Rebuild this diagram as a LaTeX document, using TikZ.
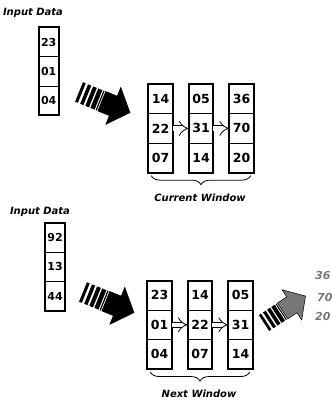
\documentclass[tikz,border=0pt]{standalone}
\usepackage{fontspec}
\setmainfont{DejaVu Sans}
\usepackage{xcolor}
\usepackage{tikz}
\usetikzlibrary{arrows.meta,positioning,fit,calc,decorations.pathreplacing}
\definecolor{ink}{HTML}{000000}
\definecolor{ashgray}{HTML}{777777}
\tikzset{
  incell/.style={
    rectangle, draw=ink, line width=0.8pt,
    minimum width=20pt, minimum height=29.3pt,
    inner sep=0pt, outer sep=0pt,
    font=\fontsize{11}{13}\selectfont\bfseries
  },
  wincell/.style={
    rectangle, draw=ink, line width=0.8pt,
    minimum width=24.5pt, minimum height=29.5pt,
    inner sep=0pt, outer sep=0pt,
    font=\fontsize{12.5}{15}\selectfont\bfseries
  },
  colframe/.style={rectangle, draw=ink, line width=1.9pt, inner sep=0pt},
  shiftarrow/.style={
    -{Implies}, double=white, double distance=4.5pt, line width=0.8pt
  },
  winbrace/.style={
    decorate, decoration={brace, mirror, amplitude=9pt}, line width=0.8pt
  },
  tag/.style={font=\fontsize{10}{12}\selectfont\bfseries\itshape, inner sep=0pt},
  outval/.style={tag, font=\fontsize{11}{13}\selectfont\bfseries\itshape,
    text=ashgray, anchor=west},
  stripearrow/.pic={
    \fill[ink] (0,-10.5) rectangle (3,10.5);
    \fill[ink] (5.5,-10.5) rectangle (9,10.5);
    \fill[ink] (11,-10.5) rectangle (15,10.5);
    \fill[ink] (16.5,-10.5) rectangle (21,10.5);
    \fill[ink] (22.2,-10.5) rectangle (23.4,10.5);
    \filldraw[fill=#1, draw=ink, line width=0.5pt]
      (24.6,-10.5) -- (37,-10.5) -- (37,-20) -- (55,0)
      -- (37,20) -- (37,10.5) -- (24.6,10.5) -- cycle;
  },
}

\begin{document}
\begin{tikzpicture}[x=1pt, y=-1pt]
    \useasboundingbox (0,0) rectangle (332,402);
    % current step
    \node[tag] (lbl1) at (33,13) {Input Data};
    \node[incell] (in1a) at (48.7,42) {23};
    \node[incell, below=0pt of in1a] (in1b) {01};
    \node[incell, below=0pt of in1b] (in1c) {04};
    \node[colframe, fit=(in1a)(in1c)] (in1) {};
    \pic[rotate=-22] at (79,92) {stripearrow=ink};
    \node[wincell] (cur1a) at (160.5,98.9) {14};
    \node[wincell, below=0pt of cur1a] (cur1b) {22};
    \node[wincell, below=0pt of cur1b] (cur1c) {07};
    \node[wincell, right=16pt of cur1a] (cur2a) {05};
    \node[wincell, below=0pt of cur2a] (cur2b) {31};
    \node[wincell, below=0pt of cur2b] (cur2c) {14};
    \node[wincell, right=16pt of cur2a] (cur3a) {36};
    \node[wincell, below=0pt of cur3a] (cur3b) {70};
    \node[wincell, below=0pt of cur3b] (cur3c) {20};
    \node[colframe, fit=(cur1a)(cur1c)] (cur1) {};
    \node[colframe, fit=(cur2a)(cur2c)] (cur2) {};
    \node[colframe, fit=(cur3a)(cur3c)] (cur3) {};
    \draw[shiftarrow] (cur1b) -- (cur2b);
    \draw[shiftarrow] (cur2b) -- (cur3b);
    \coordinate (curbl) at ([xshift=3pt,yshift=-3pt]cur1c.south west);
    \coordinate (curbr) at ([xshift=-3pt,yshift=-3pt]cur3c.south east);
    \draw[winbrace] (curbl) -- (curbr);
    \node[tag] (curlbl) at (200,198) {Current Window};

    % next step
    \node[tag] (lbl2) at (40,212) {Input Data};
    \node[incell] (in2a) at (55,237.6) {92};
    \node[incell, below=0pt of in2a] (in2b) {13};
    \node[incell, below=0pt of in2b] (in2c) {44};
    \node[colframe, fit=(in2a)(in2c)] (in2) {};
    \pic[rotate=-22] at (83,292) {stripearrow=ink};
    \node[wincell] (nxt1a) at (159.5,295.3) {23};
    \node[wincell, below=0pt of nxt1a] (nxt1b) {01};
    \node[wincell, below=0pt of nxt1b] (nxt1c) {04};
    \node[wincell, right=16pt of nxt1a] (nxt2a) {14};
    \node[wincell, below=0pt of nxt2a] (nxt2b) {22};
    \node[wincell, below=0pt of nxt2b] (nxt2c) {07};
    \node[wincell, right=16pt of nxt2a] (nxt3a) {05};
    \node[wincell, below=0pt of nxt3a] (nxt3b) {31};
    \node[wincell, below=0pt of nxt3b] (nxt3c) {14};
    \node[colframe, fit=(nxt1a)(nxt1c)] (nxt1) {};
    \node[colframe, fit=(nxt2a)(nxt2c)] (nxt2) {};
    \node[colframe, fit=(nxt3a)(nxt3c)] (nxt3) {};
    \draw[shiftarrow] (nxt1b) -- (nxt2b);
    \draw[shiftarrow] (nxt2b) -- (nxt3b);
    \coordinate (nxtbl) at ([xshift=3pt,yshift=-3pt]nxt1c.south west);
    \coordinate (nxtbr) at ([xshift=-3pt,yshift=-3pt]nxt3c.south east);
    \draw[winbrace] (nxtbl) -- (nxtbr);
    \node[tag] (nxtlbl) at (199,394) {Next Window};

    % values leaving the window
    \pic[rotate=33, scale=0.9] at (264,323) {stripearrow=ashgray};
    \node[outval] (out1) at (315,275) {36};
    \node[outval] (out2) at (317,297) {70};
    \node[outval] (out3) at (315,316) {20};
\end{tikzpicture}
\end{document}
